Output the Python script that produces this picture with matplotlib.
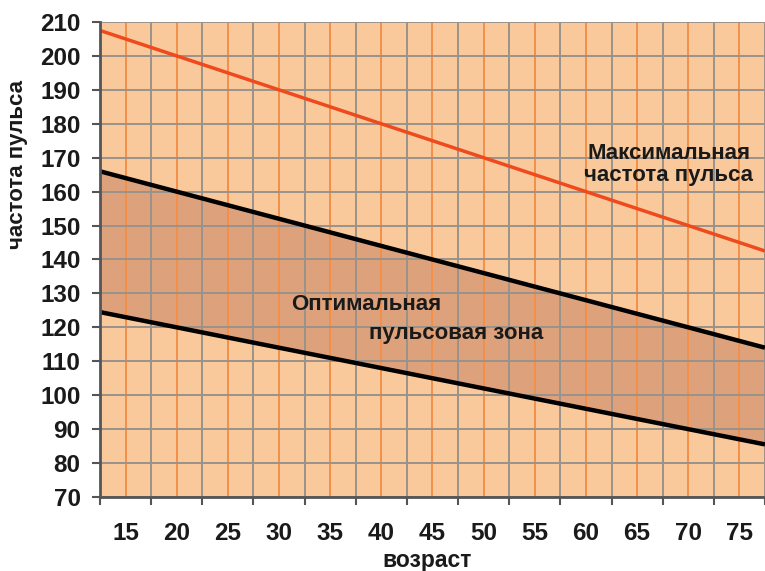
import matplotlib.pyplot as plt
import numpy as np

# age range covered by the chart (line ends at the axis edges)
ages = [12.5, 77.5]
max_pulse = [207.5, 142.5]
zone_upper = [166, 114]
zone_lower = [124.5, 85.5]

x_labels = [15, 20, 25, 30, 35, 40, 45, 50, 55, 60, 65, 70, 75]
y_ticks = [70, 80, 90, 100, 110, 120, 130, 140, 150, 160, 170, 180, 190, 200, 210]

BG = "#FAC99B"
BAND = "#DDA27B"
ORANGE_GRID = "#F39048"
GREY_GRID = "#9A928A"
RED = "#EE4A1E"
AXIS = "#555555"
TXT = "#1a1a1a"
FONT = "Liberation Sans"

fig = plt.figure(figsize=(7.65, 5.71), dpi=100)
ax = fig.add_axes([0.1307, 0.1296, 0.8693, 0.8319])
ax.set_facecolor(BG)

ax.fill_between(ages, zone_lower, zone_upper, color=BAND, lw=0, zorder=1)
ax.plot(ages, max_pulse, color=RED, lw=2.5, zorder=4, solid_capstyle="butt")
ax.plot(ages, zone_upper, color="black", lw=3.2, zorder=4, solid_capstyle="butt")
ax.plot(ages, zone_lower, color="black", lw=3.2, zorder=4, solid_capstyle="butt")

ax.set_xlim(ages[0], ages[-1])
ax.set_ylim(y_ticks[0], y_ticks[-1])

# labelled ticks sit on the orange lines, tick marks on the grey ones
ax.set_xticks(x_labels)
ax.set_xticklabels([str(v) for v in x_labels])
minor_x = np.arange(ages[0], ages[-1] + 0.1, 5)
ax.set_xticks(minor_x, minor=True)
ax.set_yticks(y_ticks)

ax.set_axisbelow(False)
ax.grid(axis="x", which="major", color=ORANGE_GRID, lw=1.4, zorder=2)
ax.grid(axis="x", which="minor", color=GREY_GRID, lw=1.4, zorder=2)
ax.grid(axis="y", which="major", color=GREY_GRID, lw=1.4, zorder=2)

ax.tick_params(axis="x", which="major", length=0, pad=18)
ax.tick_params(axis="x", which="minor", length=6, width=1.5, color=AXIS, direction="out")
ax.tick_params(axis="y", length=6, width=1.5, color=AXIS, pad=8)

for lab in ax.get_xticklabels() + ax.get_yticklabels():
    lab.set_family(FONT)
    lab.set_fontweight("bold")
    lab.set_fontsize(17.5)
    lab.set_color(TXT)

for side in ("top", "right"):
    ax.spines[side].set_visible(False)
for side in ("left", "bottom"):
    ax.spines[side].set_color(AXIS)
    ax.spines[side].set_linewidth(2)
    ax.spines[side].set_zorder(5)

ax.set_xlabel("возраст", family=FONT, fontweight="bold", fontsize=16.5, color=TXT)
ax.xaxis.set_label_coords(0.492, -0.133)
ax.set_ylabel("частота пульса", family=FONT, fontweight="bold", fontsize=16, color=TXT)
ax.yaxis.set_label_coords(-0.124, 0.699)
ax.yaxis.label.set_va("center")
ax.xaxis.label.set_va("center")

ax.text(68.1, 168, "Максимальная\nчастота пульса", family=FONT, fontweight="bold",
        fontsize=16, ha="center", va="center", linespacing=1.05,
        color=TXT, zorder=6)
ax.text(38.5, 126.6, "Оптимальная", family=FONT, fontweight="bold", fontsize=16,
        ha="center", va="center", color=TXT, zorder=6)
ax.text(47.3, 118.3, "пульсовая зона", family=FONT, fontweight="bold", fontsize=16,
        ha="center", va="center", color=TXT, zorder=6)

fig.savefig("out.png", dpi=100)
